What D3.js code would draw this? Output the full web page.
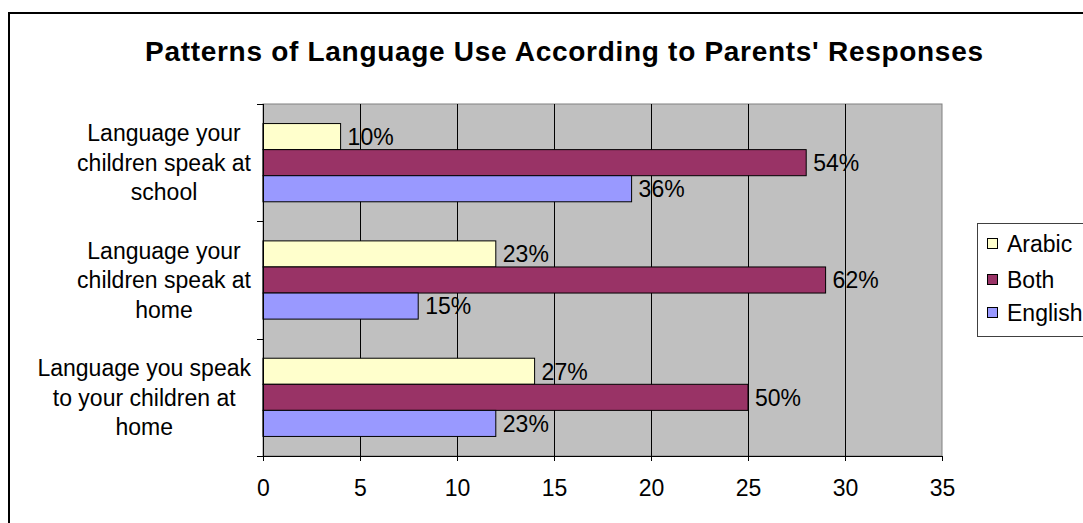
<!DOCTYPE html>
<html>
<head>
<meta charset="utf-8">
<script src="https://cdn.jsdelivr.net/npm/d3@7"></script>
<style>
  html, body { margin: 0; padding: 0; background: #ffffff; }
  svg { display: block; font-family: "Liberation Sans", Arial, sans-serif; }
</style>
</head>
<body>
<svg id="chart" width="1083" height="523"></svg>
<script>
// Survey questions (top to bottom), each split into display lines
const categories = [
  ["Language your", "children speak at", "school"],
  ["Language your", "children speak at", "home"],
  ["Language you speak", "to your children at", "home"]
];
const seriesNames = ["Arabic", "Both", "English"];
const seriesColors = ["#FFFFCC", "#993366", "#9999FF"];

// Number of responses per answer
const arabicCounts  = [4, 12, 14];
const bothCounts    = [28, 29, 25];
const englishCounts = [19, 8, 12];

// Share of responses shown next to each bar
const arabicLabels  = ["10%", "23%", "27%"];
const bothLabels    = ["54%", "62%", "50%"];
const englishLabels = ["36%", "15%", "23%"];

const xTicks = [0, 5, 10, 15, 20, 25, 30, 35];
const chartTitle = "Patterns of Language Use According to Parents' Responses";

const counts = [arabicCounts, bothCounts, englishCounts];
const labels = [arabicLabels, bothLabels, englishLabels];

const svg = d3.select("#chart");

// Outer chart frame
svg.append("rect")
  .attr("x", 9).attr("y", 13)
  .attr("width", 1090).attr("height", 520)
  .attr("fill", "#ffffff")
  .attr("stroke", "#000000")
  .attr("stroke-width", 2);

const plot = { left: 263, top: 104, width: 679, height: 352 };

const x = d3.scaleLinear().domain([0, 35]).range([plot.left, plot.left + plot.width]);
const y = d3.scaleBand().domain(d3.range(categories.length))
  .range([plot.top, plot.top + plot.height]).paddingInner(0).paddingOuter(0);
const inner = d3.scaleBand().domain(d3.range(seriesNames.length))
  .range([0, y.bandwidth()]).paddingOuter(0.75).paddingInner(0);

// Title
svg.append("text")
  .attr("x", 564).attr("y", 61)
  .attr("text-anchor", "middle")
  .attr("font-size", 28)
  .attr("font-weight", "bold")
  .attr("textLength", 838)
  .attr("lengthAdjust", "spacing")
  .attr("fill", "#000")
  .text(chartTitle);

// Plot background
svg.append("rect")
  .attr("x", plot.left).attr("y", plot.top)
  .attr("width", plot.width).attr("height", plot.height)
  .attr("fill", "#C0C0C0")
  .attr("stroke", "#808080")
  .attr("stroke-width", 1);

// Vertical gridlines
svg.append("g")
  .selectAll("line")
  .data(xTicks.filter(t => t > 0 && t < 35))
  .join("line")
  .attr("x1", d => Math.round(x(d)) + 0.5).attr("x2", d => Math.round(x(d)) + 0.5)
  .attr("y1", plot.top).attr("y2", plot.top + plot.height)
  .attr("stroke", "#000000")
  .attr("stroke-width", 1);

// Bars
const groups = svg.append("g")
  .selectAll("g")
  .data(categories.map((c, i) => i))
  .join("g")
  .attr("transform", i => `translate(0,${y(i)})`);

groups.selectAll("rect")
  .data(i => seriesNames.map((s, k) => ({ k, v: counts[k][i] })))
  .join("rect")
  .attr("x", x(0))
  .attr("y", d => inner(d.k))
  .attr("width", d => x(d.v) - x(0))
  .attr("height", inner.bandwidth())
  .attr("fill", d => seriesColors[d.k])
  .attr("stroke", "#000000")
  .attr("stroke-width", 1);

groups.selectAll("text")
  .data(i => seriesNames.map((s, k) => ({ k, v: counts[k][i], label: labels[k][i] })))
  .join("text")
  .attr("x", d => x(d.v) + 7)
  .attr("y", d => inner(d.k) + inner.bandwidth() / 2)
  .attr("dy", "0.36em")
  .attr("font-size", 23)
  .attr("fill", "#000")
  .text(d => d.label);

// X axis
const xAxis = svg.append("g")
  .attr("transform", `translate(0,${plot.top + plot.height})`)
  .call(d3.axisBottom(x).tickValues(xTicks).tickSize(5).tickPadding(19));
xAxis.select(".domain").attr("stroke", "#000");
xAxis.selectAll(".tick line").attr("stroke", "#000");
xAxis.selectAll("text")
  .attr("font-size", 23)
  .attr("font-family", "Liberation Sans, Arial, sans-serif")
  .attr("fill", "#000");

// Y axis line and boundary ticks
svg.append("line")
  .attr("x1", plot.left + 0.5).attr("x2", plot.left + 0.5)
  .attr("y1", plot.top).attr("y2", plot.top + plot.height)
  .attr("stroke", "#000");
svg.append("g")
  .selectAll("line")
  .data(d3.range(categories.length + 1))
  .join("line")
  .attr("x1", plot.left - 6).attr("x2", plot.left)
  .attr("y1", d => Math.round(plot.top + d * y.step()) + 0.5)
  .attr("y2", d => Math.round(plot.top + d * y.step()) + 0.5)
  .attr("stroke", "#000");

// Category labels: each wrapped block is right-aligned to the axis,
// with its lines centred inside the block
const lineHeight = 29.5;
const labelRight = 251;
svg.append("g")
  .selectAll("text")
  .data(categories.map((c, i) => ({ lines: c, i })))
  .join("text")
  .attr("text-anchor", "middle")
  .attr("font-size", 23)
  .attr("fill", "#000")
  .each(function(d) {
    const t = d3.select(this);
    const cy = y(d.i) + y.bandwidth() / 2;
    const spans = d.lines.map((ln, j) =>
      t.append("tspan")
        .attr("y", cy + (j - (d.lines.length - 1) / 2) * lineHeight)
        .attr("dy", "0.36em")
        .text(ln));
    const maxW = d3.max(spans, s => s.node().getComputedTextLength());
    spans.forEach(s => s.attr("x", labelRight - maxW / 2));
  });

// Legend
const legend = svg.append("g");
legend.append("rect")
  .attr("x", 977.5).attr("y", 223.5)
  .attr("width", 120).attr("height", 113)
  .attr("fill", "#ffffff")
  .attr("stroke", "#404040")
  .attr("stroke-width", 1);
const legendRows = [244, 280, 313];
seriesNames.forEach((name, k) => {
  legend.append("rect")
    .attr("x", 987.5).attr("y", legendRows[k] - 5.5)
    .attr("width", 10).attr("height", 10)
    .attr("fill", seriesColors[k])
    .attr("stroke", "#000")
    .attr("stroke-width", 1);
  legend.append("text")
    .attr("x", 1007).attr("y", legendRows[k])
    .attr("dy", "0.36em")
    .attr("font-size", 23)
    .attr("fill", "#000")
    .text(name);
});
</script>
</body>
</html>
